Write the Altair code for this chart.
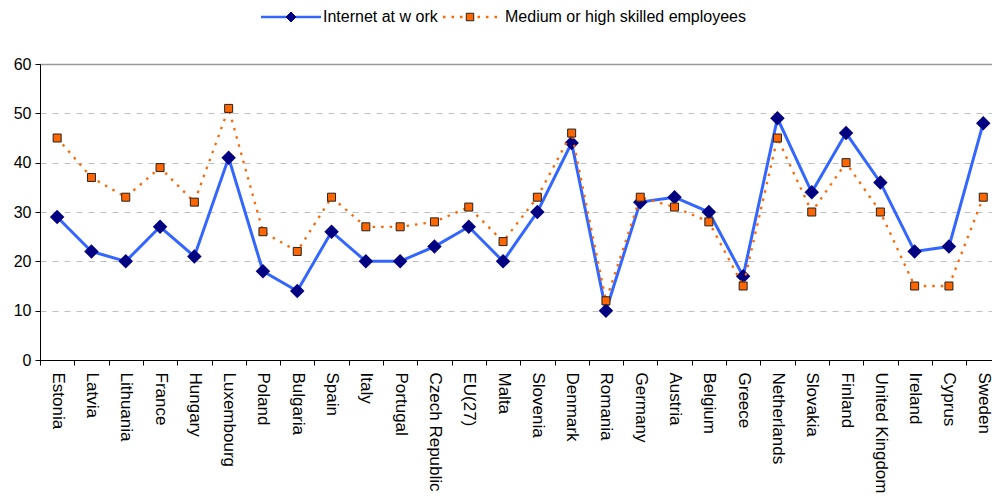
import altair as alt
import pandas as pd

# Countries in display order (left to right)
countries = [
    "Estonia", "Latvia", "Lithuania", "France", "Hungary", "Luxembourg",
    "Poland", "Bulgaria", "Spain", "Italy", "Portugal", "Czech Republic",
    "EU(27)", "Malta", "Slovenia", "Denmark", "Romania", "Germany",
    "Austria", "Belgium", "Greece", "Netherlands", "Slovakia", "Finland",
    "United Kingdom", "Ireland", "Cyprus", "Sweden",
]

# Share of employees (%)
internet_at_work = [29, 22, 20, 27, 21, 41, 18, 14, 26, 20, 20, 23, 27, 20,
                    30, 44, 10, 32, 33, 30, 17, 49, 34, 46, 36, 22, 23, 48]
skilled_employees = [45, 37, 33, 39, 32, 51, 26, 22, 33, 27, 27, 28, 31, 24,
                     33, 46, 12, 33, 31, 28, 15, 45, 30, 40, 30, 15, 15, 33]

series_names = ["Internet at w ork", "Medium or high skilled employees"]
series_keys = ["i", "m"]
y_ticks = [0, 10, 20, 30, 40, 50, 60]

BLUE = "#3366FF"
NAVY = "#000080"
ORANGE = "#FF6600"
DARK = "#222222"
FONT = "Liberation Sans"

rows = []
for key, name, values in zip(series_keys, series_names,
                             [internet_at_work, skilled_employees]):
    for country, v in zip(countries, values):
        rows.append({"country": country, "series": name, "key": key, "value": v})
df = pd.DataFrame(rows)

x_enc = alt.X(
    "country:N",
    sort=countries,
    bandPosition=0.5,
    scale=alt.Scale(type="band", domain=countries, paddingInner=0,
                    paddingOuter=0, range=[0, 960.4]),
    axis=alt.Axis(
        title=None, labelAngle=90, labelFontSize=17, labelFont=FONT,
        labelColor="black", labelPadding=7, labelOverlap=False,
        labelLimit=400, tickBand="extent", tickSize=5, tickColor="black",
        domainColor="black", domainWidth=1, grid=False,
    ),
)
y_enc = alt.Y(
    "value:Q",
    scale=alt.Scale(domain=[0, 60], nice=False),
    axis=alt.Axis(
        title=None, values=y_ticks, labelFontSize=16, labelFont=FONT,
        labelColor="black", labelPadding=4, tickSize=5, tickColor="black",
        domainColor="black", domainWidth=1, grid=True,
        gridColor={"condition": {"test": "datum.value == 60", "value": "#9A9A9A"},
                   "value": "#C0C0C0"},
        gridDash={"condition": {"test": "datum.value == 60", "value": []},
                  "value": [6, 6]},
        gridWidth={"condition": {"test": "datum.value == 60", "value": 1.5},
                   "value": 1},
    ),
)

base = alt.Chart(df).encode(x=x_enc, y=y_enc)

line_internet = base.transform_filter(alt.datum.key == "i").mark_line(
    color=BLUE, strokeWidth=3)
pts_internet = base.transform_filter(alt.datum.key == "i").mark_point(
    shape="diamond", filled=True, fill=NAVY, size=210, opacity=1)
line_skilled = base.transform_filter(alt.datum.key == "m").mark_line(
    color=ORANGE, strokeWidth=2.3, strokeDash=[2.5, 6])
pts_skilled = base.transform_filter(alt.datum.key == "m").mark_point(
    shape="square", filled=True, fill=ORANGE, stroke=DARK, strokeWidth=1,
    size=64, opacity=1)

# Legend: line samples and marker samples share one layout and overlap.
# Both symbol sets span the same box (zero-length end points) so that the
# two legends lay their entries out identically.
EXTENT = "M-6,-1L-6,-1M6,1L6,1"
legend_common = dict(
    orient="none", legendX=243, legendY=-55, direction="horizontal",
    title=None, symbolSize=100, labelFontSize=16, labelFont=FONT,
    labelColor="black", labelOffset=24, columnPadding=0, padding=0,
    labelLimit=400,
)
line_legend = alt.Legend(
    symbolType=EXTENT + "M-6,0H-0.9M0.9,0H6", symbolStrokeWidth=2.5,
    **legend_common)
marker_legend = alt.Legend(
    labelOpacity=0, symbolStrokeWidth=1,
    labelExpr="datum.label == 'i' ? 'Internet at w ork' : 'Medium or high skilled employees'",
    **legend_common)

legend_lines = base.transform_filter("false").mark_line().encode(
    color=alt.Color("series:N",
                    scale=alt.Scale(domain=series_names, range=[BLUE, ORANGE]),
                    legend=line_legend),
    strokeDash=alt.StrokeDash("series:N",
                              scale=alt.Scale(domain=series_names,
                                              range=[[1, 0], [2.5, 6]]),
                              legend=line_legend),
)
legend_marks = base.transform_filter("false").mark_point(
    filled=True, opacity=1, strokeWidth=1).encode(
    fill=alt.Fill("key:N",
                  scale=alt.Scale(domain=series_keys, range=[NAVY, ORANGE]),
                  legend=marker_legend),
    shape=alt.Shape("key:N",
                    scale=alt.Scale(domain=series_keys,
                                    range=[EXTENT + "M-1,0L0,-1L1,0L0,1Z",
                                           EXTENT + "M-0.75,-0.75H0.75V0.75H-0.75Z"]),
                    legend=marker_legend),
    stroke=alt.Stroke("key:N",
                      scale=alt.Scale(domain=series_keys, range=[NAVY, DARK]),
                      legend=marker_legend),
)

chart = alt.layer(
    line_internet, pts_internet, line_skilled, pts_skilled,
    legend_lines, legend_marks,
).properties(
    width=952,
    height=296,
    autosize=alt.AutoSizeParams(type="none"),
    padding={"left": 40, "top": 64, "right": 0, "bottom": 139},
    background="white",
).configure_view(stroke=None)

chart.save("out.html", embed_options={"renderer": "svg", "actions": False})
